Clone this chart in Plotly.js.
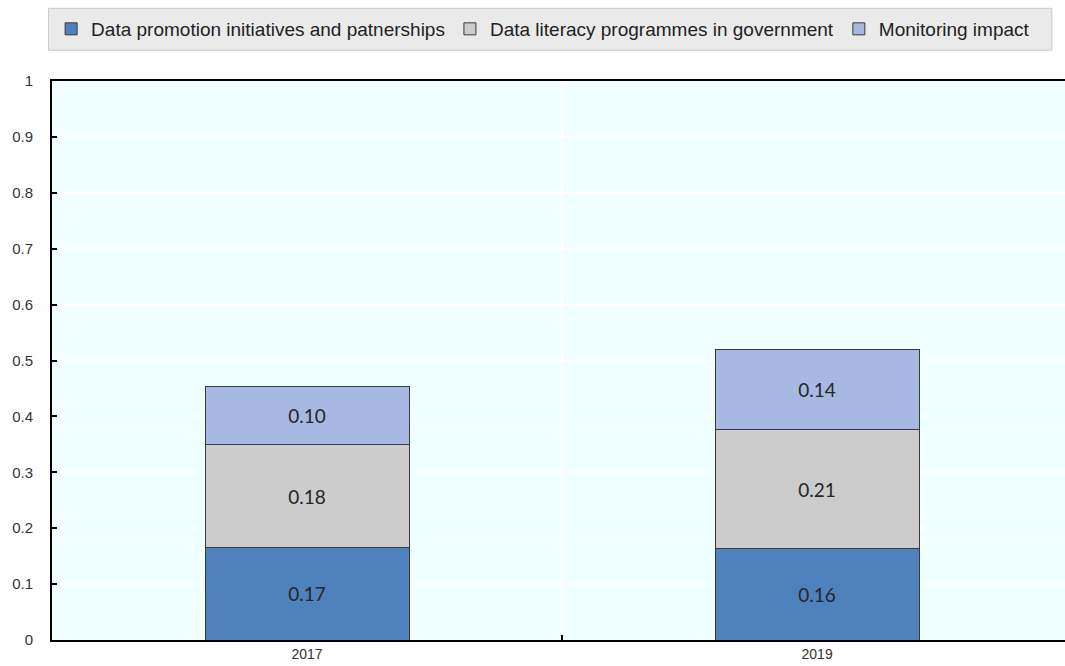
<!DOCTYPE html>
<html><head><meta charset="utf-8">
<script src="https://cdn.plot.ly/plotly-3.0.1.min.js"></script>
<style>html,body{margin:0;padding:0;background:#fff}</style>
</head><body>
<div id="chart" style="width:1065px;height:666px"></div>
<script>
const years = ['2017', '2019'];
const seriesNames = ['Data promotion initiatives and patnerships', 'Data literacy programmes in government', 'Monitoring impact'];
const promotion = [0.166, 0.163];
const literacy = [0.183, 0.213];
const monitoring = [0.104, 0.143];
const yTicks = [0, 0.1, 0.2, 0.3, 0.4, 0.5, 0.6, 0.7, 0.8, 0.9, 1];
const yTickText = ['0', '0.1', '0.2', '0.3', '0.4', '0.5', '0.6', '0.7', '0.8', '0.9', '1'];

const colors = ['#4F81BD', '#CCCCCC', '#A7B9E3'];
const values = [promotion, literacy, monitoring];
const narrow = '"Liberation Sans Narrow", "Arial Narrow", "Liberation Sans", Arial, sans-serif';

const traces = values.map((v, i) => ({
  type: 'bar',
  x: years,
  y: v,
  name: seriesNames[i],
  marker: {color: colors[i], line: {color: '#3a3a3a', width: 1}},
  texttemplate: '%{y:.2f}',
  textposition: 'inside',
  insidetextanchor: 'middle',
  textangle: 0,
  textfont: {family: 'Lato, "Open Sans", sans-serif', size: 19, color: '#262626'},
  hoverinfo: 'skip'
}));

const layout = {
  width: 1065, height: 666,
  margin: {l: 52, r: 0, t: 81, b: 26},
  barmode: 'stack',
  bargap: 0.6,
  paper_bgcolor: '#ffffff',
  plot_bgcolor: '#F0FFFF',
  showlegend: true,
  legend: {
    orientation: 'h',
    xref: 'container', yref: 'container',
    x: 0.048, y: 0.985, xanchor: 'left', yanchor: 'top',
    bgcolor: 'rgba(0,0,0,0)',
    borderwidth: 0,
    font: {family: narrow, size: 19, color: '#222'},
    itemwidth: 30,
    tracegroupgap: 0,
    traceorder: 'normal'
  },
  shapes: [{
    type: 'rect', xref: 'paper', yref: 'paper',
    x0: -0.0035, x1: 0.987, y0: 1.055, y1: 1.13,
    fillcolor: '#EAEAEA', line: {color: '#C9C9C9', width: 1}, layer: 'below'
  }],
  xaxis: {
    type: 'category',
    range: [-0.5, 1.486],
    showline: true, linecolor: '#000', linewidth: 2, mirror: true,
    ticks: 'inside', tickson: 'boundaries', ticklen: 5, tickwidth: 2, tickcolor: '#000',
    showgrid: true, gridcolor: '#ffffff', gridwidth: 2,
    tickfont: {family: narrow, size: 14, color: '#333'},
    fixedrange: true
  },
  yaxis: {
    range: [0, 1],
    tickvals: yTicks, ticktext: yTickText,
    showline: true, linecolor: '#000', linewidth: 2,
    ticks: 'inside', ticklen: 5, tickwidth: 2, tickcolor: '#000',
    showgrid: true, gridcolor: '#ffffff', gridwidth: 2,
    zeroline: false,
    ticklabelstandoff: 14,
    tickfont: {family: narrow, size: 15, color: '#333'},
    fixedrange: true
  }
};

Plotly.newPlot('chart', traces, layout, {displayModeBar: false, staticPlot: true});
</script>
</body></html>
